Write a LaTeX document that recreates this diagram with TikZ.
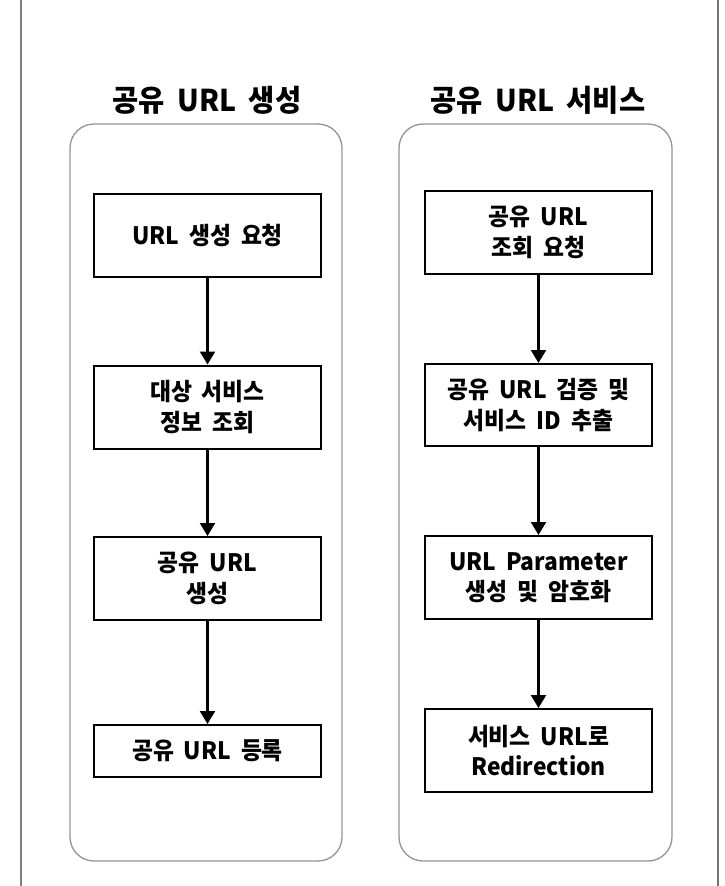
\documentclass[tikz,border=0pt]{standalone}
\usepackage{fontspec}
\setmainfont{Noto Sans CJK KR}[WordSpace=1.9, FakeStretch=0.95]
\usetikzlibrary{arrows.meta}
\begin{document}
\begin{tikzpicture}[x=1pt,y=1pt,
  stepbox/.style={draw=black, line width=2pt, rectangle, minimum width=227pt, inner sep=0pt, align=center, font=\fontsize{24}{30.5}\selectfont\bfseries},
  container/.style={draw=black!42, line width=1.3pt, rounded corners=24pt},
  title/.style={font=\fontsize{30}{34}\selectfont\bfseries, inner sep=0pt},
  flow/.style={line width=2.3pt, -{Triangle[width=15pt,length=13pt]}}]
\useasboundingbox (0,0) rectangle (725,-886);
\fill[white] (0,0) rectangle (725,-886);
% outer frame lines
\draw[black!50, line width=1.4pt] (21,0) -- (21,-886);
\draw[black!55, line width=1.6pt] (718,0) -- (718,-886);
% containers
\draw[container] (70,-124) rectangle (342,-861);
\draw[container] (399,-124) rectangle (672,-861);
% titles
\node[title] (tl) at (207,-100) {공유 URL 생성};
\node[title] (tr) at (538,-100) {공유 URL 서비스};
% left column
\node[stepbox, minimum height=83pt] (l1) at (207.5,-235.5) {URL 생성 요청};
\node[stepbox, minimum height=83pt] (l2) at (207.5,-407) {대상 서비스\\정보 조회};
\node[stepbox, minimum height=83pt] (l3) at (207.5,-578.5) {공유 URL\\생성};
\node[stepbox, minimum height=52pt] (l4) at (207.5,-751) {공유 URL 등록};
% right column
\node[stepbox, minimum height=83pt] (r1) at (538.5,-232.5) {공유 URL\\조회 요청};
\node[stepbox, minimum height=82pt] (r2) at (538.5,-405) {공유 URL 검증 및\\서비스 ID 추출};
\node[stepbox, minimum height=83pt] (r3) at (538.5,-577.5) {URL Parameter\\생성 및 암호화};
\node[stepbox, minimum height=83pt] (r4) at (538.5,-750.5) {서비스 URL로\\Redirection};
% arrows
\draw[flow] (l1) -- (l2);
\draw[flow] (l2) -- (l3);
\draw[flow] (l3) -- (l4);
\draw[flow] (r1) -- (r2);
\draw[flow] (r2) -- (r3);
\draw[flow] (r3) -- (r4);
\end{tikzpicture}
\end{document}
